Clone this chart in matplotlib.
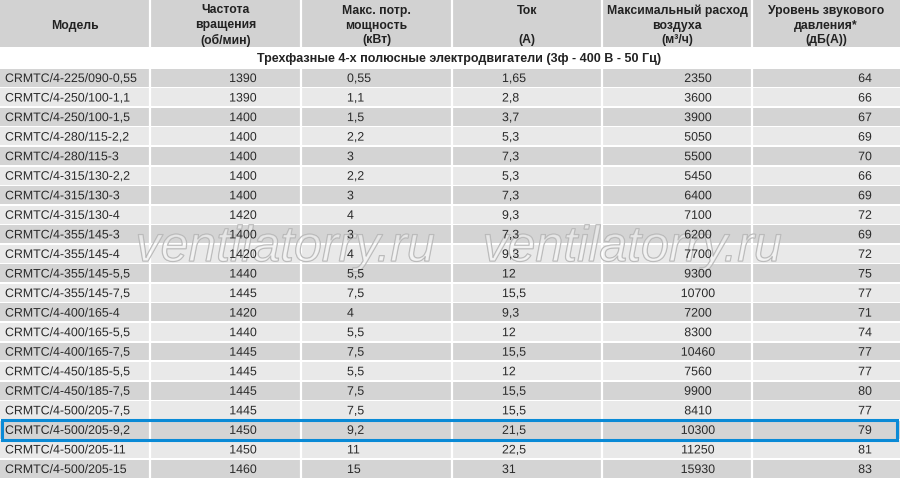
import matplotlib
matplotlib.use('Agg')
import matplotlib.pyplot as plt
import matplotlib.patheffects as pe
from matplotlib import font_manager

models = ['CRMTC/4-225/090-0,55', 'CRMTC/4-250/100-1,1', 'CRMTC/4-250/100-1,5',
          'CRMTC/4-280/115-2,2', 'CRMTC/4-280/115-3', 'CRMTC/4-315/130-2,2',
          'CRMTC/4-315/130-3', 'CRMTC/4-315/130-4', 'CRMTC/4-355/145-3',
          'CRMTC/4-355/145-4', 'CRMTC/4-355/145-5,5', 'CRMTC/4-355/145-7,5',
          'CRMTC/4-400/165-4', 'CRMTC/4-400/165-5,5', 'CRMTC/4-400/165-7,5',
          'CRMTC/4-450/185-5,5', 'CRMTC/4-450/185-7,5', 'CRMTC/4-500/205-7,5',
          'CRMTC/4-500/205-9,2', 'CRMTC/4-500/205-11', 'CRMTC/4-500/205-15']
speed = ['1390', '1390', '1400', '1400', '1400', '1400', '1400', '1420', '1400',
         '1420', '1440', '1445', '1420', '1440', '1445', '1445', '1445', '1445',
         '1450', '1450', '1460']
power = ['0,55', '1,1', '1,5', '2,2', '3', '2,2', '3', '4', '3', '4', '5,5', '7,5',
         '4', '5,5', '7,5', '5,5', '7,5', '7,5', '9,2', '11', '15']
current = ['1,65', '2,8', '3,7', '5,3', '7,3', '5,3', '7,3', '9,3', '7,3', '9,3',
           '12', '15,5', '9,3', '12', '15,5', '12', '15,5', '15,5', '21,5', '22,5', '31']
airflow = ['2350', '3600', '3900', '5050', '5500', '5450', '6400', '7100', '6200',
           '7700', '9300', '10700', '7200', '8300', '10460', '7560', '9900', '8410',
           '10300', '11250', '15930']
noise = ['64', '66', '67', '69', '70', '66', '69', '72', '69', '72', '75', '77',
         '71', '74', '77', '77', '80', '77', '79', '81', '83']

headers = ['Модель', 'Частота\nвращения\n(об/мин)', 'Макс. потр.\nмощность\n(кВт)',
           'Ток\n\n(А)', 'Максимальный расход\nвоздуха\n(м³/ч)',
           'Уровень звукового\nдавления*\n(дБ(А))']
subtitle = 'Трехфазные 4-х полюсные электродвигатели (3ф - 400 В - 50 Гц)'
highlight = 'CRMTC/4-500/205-9,2'
watermark = 'ventilatorry.ru'

installed = {f.name for f in font_manager.fontManager.ttflist}
narrow = 'Liberation Sans Narrow' if 'Liberation Sans Narrow' in installed else 'Liberation Sans'
plt.rcParams['font.family'] = [narrow, 'DejaVu Sans']

col_edges = [0, 150, 301, 452, 602, 752, 900]
top0 = 69
pitch = 19.55

fig = plt.figure(figsize=(9, 4.81), dpi=100)
ax = fig.add_axes([0, 0, 1, 1])
ax.set_xlim(0, 900)
ax.set_ylim(481, 0)
ax.axis('off')

# header band, row stripes, white column separators
ax.barh(24, 900, height=48, left=0, color='#d2d2d2')
for i in range(len(models)):
    shade = '#d4d4d4' if i % 2 == 0 else '#e9e9e9'
    ax.barh(top0 + i * pitch + pitch / 2, 900, height=pitch - 1.6, left=0, color=shade)
for x in col_edges[1:-1]:
    ax.vlines(x, 0, 48, color='white', lw=1.6)
    ax.vlines(x, top0, 481, color='white', lw=1.6)

for j, h in enumerate(headers):
    cx = (col_edges[j] + col_edges[j + 1]) / 2
    ax.text(cx, 25.5, h, ha='center', va='center', fontsize=8.8, fontweight='bold',
            color='#222222', linespacing=1.3)
ax.text(459, 59, subtitle, ha='center', va='center', fontsize=9, fontweight='bold',
        color='#222222')

# watermark sits under the numbers
for wx in [285, 632]:
    ax.text(wx, 262, watermark, ha='center', va='baseline', fontsize=36, style='italic',
            color=(1, 1, 1, 0.25), zorder=3,
            path_effects=[pe.withStroke(linewidth=0.9, foreground='#b4b4b4')])

# drawing the cell text as paths keeps every baseline in a row on one line
for i in range(len(models)):
    y = top0 + i * pitch + 14
    kw = dict(va='baseline', fontsize=8.9, color='#2a2a2a', zorder=4,
              path_effects=[pe.Normal()])
    ax.text(5, y, models[i], ha='left', **kw)
    ax.text(243, y, speed[i], ha='center', **kw)
    ax.text(347, y, power[i], ha='left', **kw)
    ax.text(502, y, current[i], ha='left', **kw)
    ax.text(698, y, airflow[i], ha='center', **kw)
    ax.text(865, y, noise[i], ha='center', **kw)
    if models[i] == highlight:
        ax.add_patch(plt.Rectangle((2, top0 + i * pitch), 895, pitch + 1, fill=False,
                                   edgecolor='#0a8ad6', lw=2.2, zorder=5))

fig.savefig('out.png', dpi=100)
